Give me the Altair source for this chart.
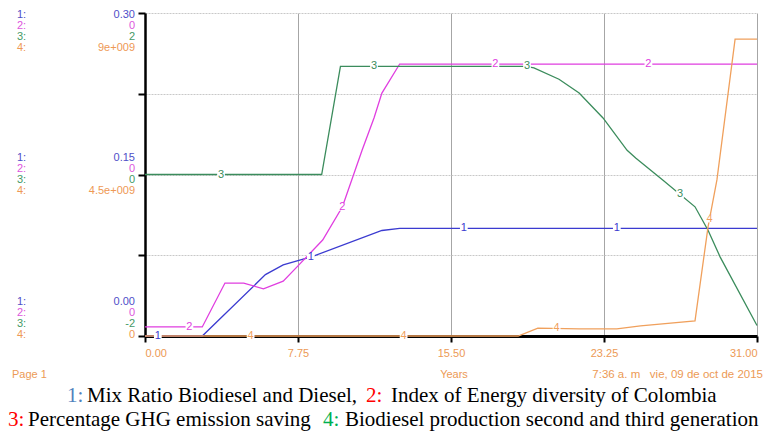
import altair as alt
import pandas as pd
import numpy as np

# ---------------- data ----------------
# 1: Mix Ratio Biodiesel and Diesel  (scale 0.00 .. 0.30)
t_mix = [0, 2.9, 6.1, 7.0, 8.5, 12.0, 12.9, 31]
v_mix = [0, 0, 0.057, 0.066, 0.074, 0.098, 0.100, 0.100]
# 2: Index of Energy diversity of Colombia (own scale)
t_div = [0, 2.9, 4.05, 5.0, 6.0, 7.0, 7.7, 9.0, 10.0, 11.0, 11.6, 12.0, 12.9, 31]
v_div = [0.028, 0.028, 0.164, 0.164, 0.146, 0.170, 0.214, 0.297, 0.400, 0.576, 0.675, 0.752, 0.842, 0.842]
# 3: Percentage GHG emission saving (scale -2 .. 2)
t_ghg = [0, 8.95, 9.9, 19.3, 19.7, 20.97, 21.99, 23.2, 24.42, 24.87, 26.24, 27.86, 28.52, 29.13, 31]
v_ghg = [0, 0, 1.34, 1.34, 1.32, 1.18, 1.01, 0.70, 0.30, 0.20, -0.07, -0.40, -0.69, -1.02, -1.87]
# 4: Biodiesel production second and third generation (scale 0 .. 9e9)
t_bio = [0, 18.9, 19.9, 22.0, 23.9, 25.1, 27.86, 28.52, 28.97, 29.89, 31]
v_bio = [0, 0, 0.22e9, 0.20e9, 0.20e9, 0.28e9, 0.42e9, 3.04e9, 4.35e9, 8.27e9, 8.27e9]

x_ticks = [0, 7.75, 15.5, 23.25, 31]
label_offsets = [0.65, 2.25, 3.85, 5.35]

series_names = ["Mix Ratio Biodiesel and Diesel", "Index of Energy diversity of Colombia",
                "Percentage GHG emission saving", "Biodiesel production second and third generation"]
scale_top = ["0.30", "0", "2", "9e+009"]
scale_mid = ["0.15", "0", "0", "4.5e+009"]
scale_bot = ["0.00", "0", "-2", "0"]
stamp = "7:36 a. m\u00a0\u00a0\u00a0vie, 09 de oct de 2015"

# ---------------- styling ----------------
colors = ["#3b3bd0", "#e03ee0", "#3b8c5c", "#f0a05c"]
lab_colors = ["#4f4fc8", "#dd55dd", "#449966", "#ee9955"]
orange = "#ec9a55"
domains = [[0, 0.3], [0, 1], [-2, 2], [0, 9e9]]
W, H = 612, 323
OX, OY = 145, 13  # page position of the plot origin
CANVAS_W = 756

x_axis = alt.Axis(values=x_ticks, format=".2f", labelColor=orange, labelFont="Liberation Sans",
                  labelFontSize=11, labelFlush=True, labelPadding=5, grid=True, gridColor="#a6a6a6",
                  gridWidth=1, domainColor="black", domainWidth=3, tickColor="black", tickWidth=2,
                  tickSize=6, title=None)
y_axis = alt.Axis(values=[0, 0.075, 0.15, 0.225, 0.3], labels=False, grid=True, gridColor="#c8c8c8",
                  gridDash=[2, 1], domainColor="black", domainWidth=2.5, tickColor="black",
                  tickWidth=2, tickSize=7, title=None)


def xenc(show=False):
    return alt.X("t:Q", scale=alt.Scale(domain=[0, 31], nice=False, zero=False),
                 axis=x_axis if show else None)


def yenc(i, show=False):
    return alt.Y("v:Q", scale=alt.Scale(domain=domains[i], nice=False, zero=False),
                 axis=y_axis if show else None)


all_t = [t_mix, t_div, t_ghg, t_bio]
all_v = [v_mix, v_div, v_ghg, v_bio]

line_layers = []
label_layers = []
for i in range(4):
    df = pd.DataFrame({"t": all_t[i], "v": all_v[i]})
    line_layers.append(
        alt.Chart(df).mark_line(color=colors[i], strokeWidth=1.3).encode(
            x=xenc(i == 0), y=yenc(i, i == 0)))
    lt = [label_offsets[i] + 7.75 * k for k in range(4)]
    lv = list(np.interp(lt, all_t[i], all_v[i]))
    ldf = pd.DataFrame({"t": lt, "v": lv, "s": [str(i + 1)] * 4})
    label_layers.append(
        alt.Chart(ldf).mark_square(size=60, color="white", opacity=1).encode(x=xenc(), y=yenc(i)))
    label_layers.append(
        alt.Chart(ldf).mark_text(fontSize=11, font="Liberation Sans", color=colors[i]).encode(
            x=xenc(), y=yenc(i), text="s:N"))


def text_layer(rows, **kw):
    df = pd.DataFrame(rows, columns=["px", "py", "s", "c"])
    df["px"] = df["px"] - OX
    df["py"] = df["py"] - OY
    return alt.Chart(df).mark_text(**kw).encode(
        x=alt.X("px:Q", scale=None, axis=None),
        y=alt.Y("py:Q", scale=None, axis=None),
        text="s:N",
        color=alt.Color("c:N", scale=None))


# left scale labels
idx_rows, val_rows = [], []
for ys, vals in [([15, 26, 37, 48], scale_top), ([158, 169, 180, 191], scale_mid),
                 ([302, 313, 324, 335], scale_bot)]:
    for i in range(4):
        idx_rows.append([17, ys[i], f"{i + 1}:", lab_colors[i]])
        val_rows.append([135, ys[i], vals[i], lab_colors[i]])

left_idx = text_layer(idx_rows, align="left", baseline="middle", font="Liberation Sans", fontSize=11)
left_val = text_layer(val_rows, align="right", baseline="middle", font="Liberation Sans", fontSize=11)

foot_left = text_layer([[12, 375, "Page 1", orange]], align="left", baseline="middle",
                       font="Liberation Sans", fontSize=11)
foot_mid = text_layer([[454, 375, "Years", orange]], align="center", baseline="middle",
                      font="Liberation Sans", fontSize=11)
foot_right = text_layer([[763, 375, stamp, orange]], align="right",
                        baseline="middle", font="Liberation Sans", fontSize=11.5)

legend = text_layer([
    [67, 402, "1:", "#4f81bd"],
    [87, 402, series_names[0] + ",", "black"],
    [366, 402, "2:", "#ff0000"],
    [391, 402, series_names[1], "black"],
    [8, 426, "3:", "#ff0000"],
    [28, 426, series_names[2], "black"],
    [323, 426, "4:", "#00b050"],
    [345, 426, series_names[3], "black"],
], align="left", baseline="alphabetic", font="Liberation Serif", fontSize=21)

chart = alt.layer(*line_layers, *label_layers, left_idx, left_val, foot_left, foot_mid,
                  foot_right, legend).resolve_scale(
    x="independent", y="independent").properties(
    width=W, height=H, autosize="none",
    padding={"left": OX - 8, "top": OY - 8, "right": CANVAS_W - (OX - 8) - W, "bottom": 96},
    background="white").configure_view(stroke=None)

chart.save("out.html", embed_options={"renderer": "svg", "actions": False})
